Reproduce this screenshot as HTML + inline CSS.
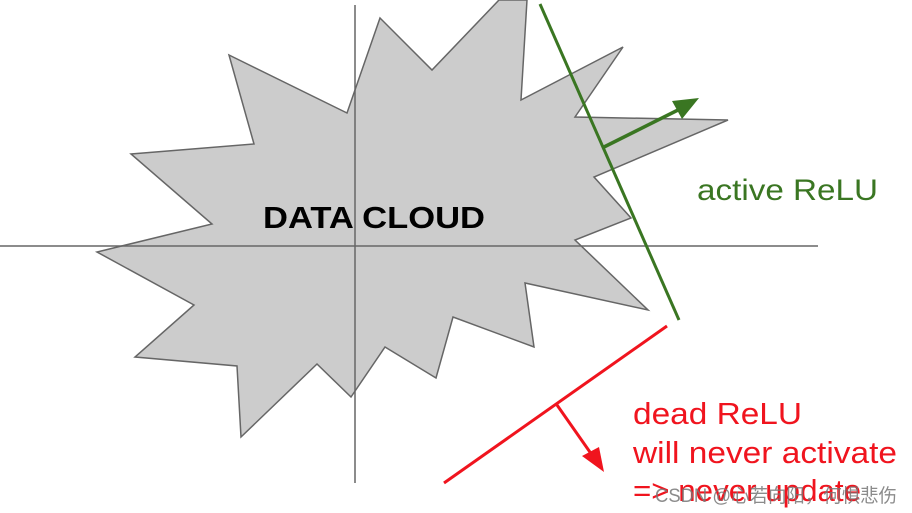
<!DOCTYPE html>
<html><head><meta charset="utf-8"><style>
html,body{margin:0;padding:0;background:#fff;}
svg{display:block;}
</style></head><body>
<svg width="912" height="513" viewBox="0 0 912 513" xmlns="http://www.w3.org/2000/svg">
<polygon points="347,113 380,18 432,70 499,0 527,0 521,100 623,47 575,117 728,120 594,177 631,218 575,240 648,310 525,283 534,347 453,317 436,378 385,347 351,397 317,364 241,437 237,366 135,357 194,305 97,252 212,224 131,154 254,144 229,55" fill="#cccccc" stroke="#666" stroke-width="1.5"/>
<line x1="355" y1="5" x2="355" y2="483" stroke="#666" stroke-width="1.5"/>
<line x1="0" y1="246" x2="818" y2="246" stroke="#666" stroke-width="1.5"/>
<text x="263" y="228" font-family="Liberation Sans, sans-serif" font-weight="bold" font-size="31" textLength="222" lengthAdjust="spacingAndGlyphs" fill="#000">DATA CLOUD</text>
<line x1="540" y1="4" x2="679" y2="320" stroke="#3a7622" stroke-width="3"/>
<line x1="604" y1="147" x2="680" y2="109" stroke="#3a7622" stroke-width="3.5"/>
<polygon points="699,98 672,101 682,119" fill="#3a7622"/>
<text x="697" y="200" font-family="Liberation Sans, sans-serif" font-size="30" textLength="181" lengthAdjust="spacingAndGlyphs" fill="#3a7622">active ReLU</text>
<line x1="667" y1="326" x2="444" y2="483" stroke="#f0141e" stroke-width="3"/>
<line x1="557" y1="405" x2="592" y2="455" stroke="#f0141e" stroke-width="3"/>
<polygon points="604,472 582,456 599,447" fill="#f0141e"/>
<g font-family="Liberation Sans, sans-serif" font-size="31" fill="#f0141e" lengthAdjust="spacingAndGlyphs">
<text x="633" y="424" textLength="169" lengthAdjust="spacingAndGlyphs">dead ReLU</text>
<text x="633" y="463" textLength="264" lengthAdjust="spacingAndGlyphs">will never activate</text>
<text x="633" y="501" textLength="228" lengthAdjust="spacingAndGlyphs">=&gt; never update</text>
</g>
<text x="655" y="502" font-family="Liberation Sans, Noto Sans CJK SC, sans-serif" font-size="19" textLength="242" lengthAdjust="spacingAndGlyphs" fill="#777" fill-opacity="0.85">CSDN @心若向阳，何惧悲伤</text>
</svg>
</body></html>
